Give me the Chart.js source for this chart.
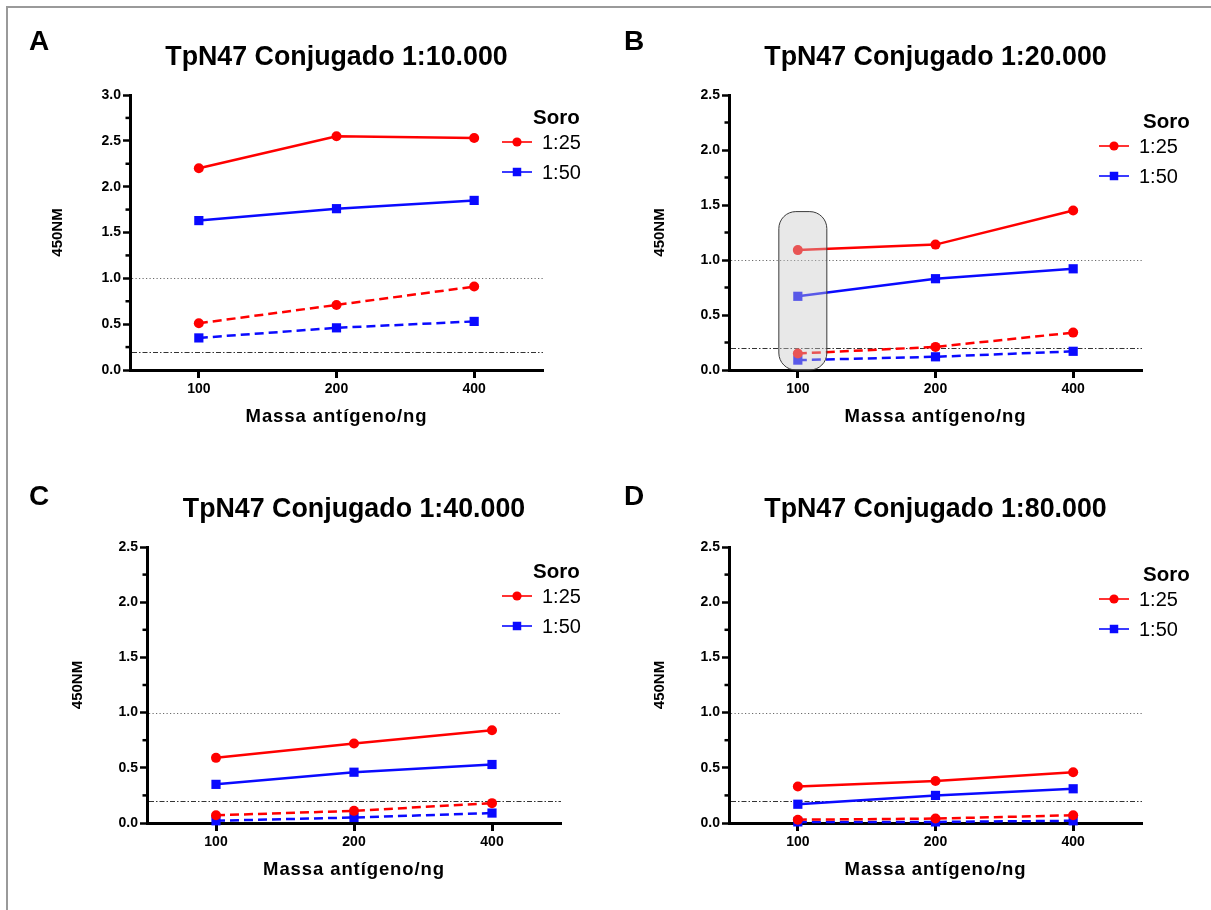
<!DOCTYPE html>
<html>
<head>
<meta charset="utf-8">
<script src="https://cdn.jsdelivr.net/npm/chart.js@4.4.0/dist/chart.umd.min.js"></script>
<style>
html,body{margin:0;padding:0;background:#fff;}
#wrap{position:relative;width:1211px;height:910px;overflow:hidden;background:#fff;}
#frame{position:absolute;left:6px;top:6px;width:1400px;height:1100px;border-left:2px solid #9a9a9a;border-top:2px solid #9a9a9a;}
canvas{position:absolute;display:block;}
</style>
</head>
<body>
<div id="wrap">
  <div id="frame"></div>
  <canvas id="cA" width="605" height="455" style="left:0;top:0"></canvas>
  <canvas id="cB" width="606" height="455" style="left:605px;top:0"></canvas>
  <canvas id="cC" width="605" height="455" style="left:0;top:455px"></canvas>
  <canvas id="cD" width="606" height="455" style="left:605px;top:455px"></canvas>
</div>
<script>
// ---------- data ----------
const massLabels = ['100', '200', '400'];          // Massa antígeno/ng
const seriesNames = ['1:25', '1:50'];               // Soro dilutions
const panelLetters = ['A', 'B', 'C', 'D'];
const panelTitles = ['TpN47 Conjugado 1:10.000', 'TpN47 Conjugado 1:20.000',
                     'TpN47 Conjugado 1:40.000', 'TpN47 Conjugado 1:80.000'];
const yMaxValues = [3.0, 2.5, 2.5, 2.5];
const refLineUpper = 1.0;   // dotted reference
const refLineLower = 0.2;   // dash-dot cut-off

// Panel A (1:10.000)
const A_25 = [2.20, 2.55, 2.53];
const A_50 = [1.63, 1.76, 1.85];
const A_25_dashed = [0.51, 0.71, 0.91];
const A_50_dashed = [0.35, 0.46, 0.53];
// Panel B (1:20.000)
const B_25 = [1.09, 1.14, 1.45];
const B_50 = [0.67, 0.83, 0.92];
const B_25_dashed = [0.15, 0.21, 0.34];
const B_50_dashed = [0.09, 0.12, 0.17];
// Panel C (1:40.000)
const C_25 = [0.59, 0.72, 0.84];
const C_50 = [0.35, 0.46, 0.53];
const C_25_dashed = [0.07, 0.11, 0.18];
const C_50_dashed = [0.02, 0.05, 0.09];
// Panel D (1:80.000)
const D_25 = [0.33, 0.38, 0.46];
const D_50 = [0.17, 0.25, 0.31];
const D_25_dashed = [0.03, 0.04, 0.07];
const D_50_dashed = [0.01, 0.01, 0.02];

// ---------- styling / layout ----------
const RED = '#ff0000';
const BLUE = '#0a0aff';
const FONT = '"Liberation Sans", Arial, Helvetica, sans-serif';
Chart.defaults.font.family = FONT;
Chart.defaults.color = '#000';

const panelLayouts = [
  { id: 'cA', w: 605, h: 455, area: {left: 130, top: 95, right: 543, bottom: 370}, yTitlePad: 49, letterX: 39, legend: {x: 502, y: 118, soroDx: 31} },
  { id: 'cB', w: 606, h: 455, area: {left: 124, top: 95, right: 537, bottom: 370}, yTitlePad: 46, letterX: 29, legend: {x: 494, y: 122, soroDx: 44},
    highlight: {index: 0, dx: 5, halfWidth: 24, top: 1.44, radius: 17} },
  { id: 'cC', w: 605, h: 455, area: {left: 147, top: 92, right: 561, bottom: 368}, yTitlePad: 69, letterX: 39, legend: {x: 502, y: 117, soroDx: 31} },
  { id: 'cD', w: 606, h: 455, area: {left: 124, top: 92, right: 537, bottom: 368}, yTitlePad: 46, letterX: 29, legend: {x: 494, y: 120, soroDx: 44} }
];
const panelSeries = [
  [A_25, A_50, A_25_dashed, A_50_dashed],
  [B_25, B_50, B_25_dashed, B_50_dashed],
  [C_25, C_50, C_25_dashed, C_50_dashed],
  [D_25, D_50, D_25_dashed, D_50_dashed]
];
const X_AXIS_H = 60;
const X_TITLE = 'Massa antígeno/ng';

const decorPlugin = {
  id: 'panelDecor',
  beforeDatasetsDraw(chart, args, o) {
    const {ctx, chartArea: ca, scales: {y}} = chart;
    ctx.save();
    ctx.lineWidth = 1;
    // dotted line at 1.0
    let py = Math.round(y.getPixelForValue(o.upper)) + 0.5;
    ctx.strokeStyle = '#6a6a6a';
    ctx.setLineDash([1.2, 2.3]);
    ctx.beginPath(); ctx.moveTo(ca.left + 2, py); ctx.lineTo(ca.right, py); ctx.stroke();
    // dash-dot line at 0.2
    py = Math.round(y.getPixelForValue(o.lower)) + 0.5;
    ctx.strokeStyle = '#333';
    ctx.setLineDash([5, 2, 1.5, 2]);
    ctx.beginPath(); ctx.moveTo(ca.left + 2, py); ctx.lineTo(ca.right, py); ctx.stroke();
    ctx.restore();
  },
  afterDatasetsDraw(chart, args, o) {
    const h = o.highlight;
    if (!h) return;
    const {ctx, scales: {x, y}} = chart;
    const cx = x.getPixelForValue(h.index) + h.dx;
    const left = cx - h.halfWidth, right = cx + h.halfWidth;
    const top = y.getPixelForValue(h.top), bottom = y.getPixelForValue(0);
    ctx.save();
    ctx.beginPath();
    ctx.roundRect(left, top, right - left, bottom - top, h.radius);
    ctx.fillStyle = 'rgba(200,200,200,0.42)';
    ctx.fill();
    ctx.lineWidth = 1;
    ctx.strokeStyle = '#3a3a3a';
    ctx.stroke();
    ctx.restore();
  },
  afterDraw(chart, args, o) {
    const {ctx, chartArea: ca, scales: {y}} = chart;
    ctx.save();
    // minor y ticks
    ctx.strokeStyle = '#000';
    ctx.lineWidth = 2.5;
    for (let v = 0.25; v < y.max; v += 0.5) {
      const py = y.getPixelForValue(v);
      ctx.beginPath(); ctx.moveTo(ca.left - 4.5, py); ctx.lineTo(ca.left, py); ctx.stroke();
    }
    ctx.fillStyle = '#000';
    ctx.textBaseline = 'middle';
    ctx.textAlign = 'center';
    // x axis title (slightly letter-spaced like the reference)
    ctx.font = 'bold 18.5px ' + FONT;
    if ('letterSpacing' in ctx) ctx.letterSpacing = '0.9px';
    ctx.fillText(X_TITLE, (ca.left + ca.right) / 2, ca.bottom + 47);
    if ('letterSpacing' in ctx) ctx.letterSpacing = '0px';
    // panel title
    ctx.font = 'bold 26.8px ' + FONT;
    ctx.fillText(o.title, (ca.left + ca.right) / 2, ca.top - 37.5);
    // panel letter
    ctx.font = 'bold 28px ' + FONT;
    ctx.fillText(o.letter, o.letterX, 42);
    // legend
    const L = o.legend;
    ctx.textAlign = 'left';
    ctx.font = 'bold 20.5px ' + FONT;
    ctx.fillText('Soro', L.x + L.soroDx, L.y);
    const rowsDy = [24, 54];
    chart.data.datasets.filter(d => !d.borderDash).forEach((d, i) => {
      const yy = L.y + rowsDy[i];
      ctx.strokeStyle = d.borderColor;
      ctx.lineWidth = 1.6;
      ctx.setLineDash([]);
      ctx.beginPath(); ctx.moveTo(L.x, yy); ctx.lineTo(L.x + 30, yy); ctx.stroke();
      ctx.fillStyle = d.borderColor;
      Chart.helpers.drawPoint(ctx, {pointStyle: d.pointStyle, radius: d.pointStyle === 'rect' ? 6 : 4.6, rotation: 0, borderWidth: 0}, L.x + 15, yy);
      ctx.fillStyle = '#000';
      ctx.font = '20px ' + FONT;
      ctx.fillText(d.label, L.x + 40, yy + 1);
    });
    ctx.restore();
  }
};

function buildPanel(i) {
  const lay = panelLayouts[i];
  const s = panelSeries[i];
  const mk = (label, data, color, style, dashed) => ({
    label, data,
    borderColor: color, backgroundColor: color,
    pointBackgroundColor: color, pointBorderColor: color,
    pointStyle: style, pointRadius: style === 'rect' ? 6.5 : 5, pointBorderWidth: 0,
    borderWidth: 2.5, borderDash: dashed ? [9, 5] : undefined,
    tension: 0, clip: false, fill: false
  });
  new Chart(document.getElementById(lay.id), {
    type: 'line',
    data: {
      labels: massLabels,
      datasets: [
        mk(seriesNames[0] + ' ', s[2], RED, 'circle', true),
        mk(seriesNames[1] + ' ', s[3], BLUE, 'rect', true),
        mk(seriesNames[0], s[0], RED, 'circle', false),
        mk(seriesNames[1], s[1], BLUE, 'rect', false)
      ]
    },
    options: {
      responsive: false,
      animation: false,
      devicePixelRatio: 1,
      layout: { padding: { left: 0, top: lay.area.top, right: lay.w - lay.area.right, bottom: lay.h - lay.area.bottom - X_AXIS_H } },
      plugins: {
        legend: { display: false },
        tooltip: { enabled: false },
        title: { display: false },
        panelDecor: {
          upper: refLineUpper, lower: refLineLower,
          title: panelTitles[i], letter: panelLetters[i], letterX: lay.letterX,
          legend: lay.legend, highlight: lay.highlight || null
        }
      },
      scales: {
        x: {
          type: 'category',
          offset: true,
          afterFit: sc => { sc.height = X_AXIS_H; },
          border: { display: true, color: '#000', width: 3 },
          grid: { display: true, drawOnChartArea: false, drawTicks: true, tickLength: 8, tickWidth: 3, tickColor: '#000', offset: false },
          ticks: { color: '#000', font: { size: 14, weight: 'bold' }, padding: 3, maxRotation: 0 },
          title: { display: false }
        },
        y: {
          min: 0, max: yMaxValues[i],
          afterFit: sc => { sc.width = lay.area.left; },
          border: { display: true, color: '#000', width: 3 },
          grid: { display: true, drawOnChartArea: false, drawTicks: true, tickLength: 7, tickWidth: 2.5, tickColor: '#000' },
          ticks: { stepSize: 0.5, color: '#000', font: { size: 14, weight: 'bold' }, padding: 2, callback: v => Number(v).toFixed(1) },
          title: { display: true, text: '450NM', color: '#000', font: { size: 15, weight: 'bold' }, padding: { top: lay.yTitlePad, bottom: 0 } }
        }
      }
    },
    plugins: [decorPlugin]
  });
}
[0, 1, 2, 3].forEach(buildPanel);
</script>
</body>
</html>
